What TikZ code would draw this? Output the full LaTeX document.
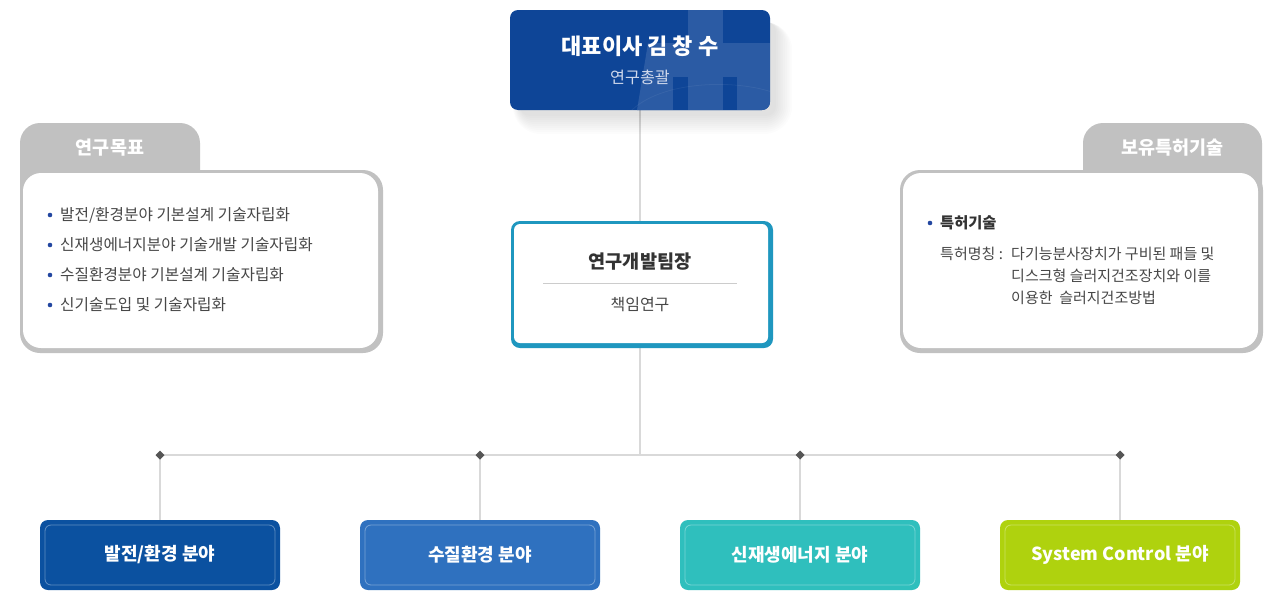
\documentclass[tikz,border=0pt]{standalone}
\usepackage{fontspec}
\setmainfont{Noto Sans CJK KR}
\usetikzlibrary{calc}
\definecolor{topblue}{HTML}{0E4597}
\definecolor{toplight}{HTML}{2B5BA4}
\definecolor{leadteal}{HTML}{1F97BF}
\definecolor{panelgray}{HTML}{C1C1C1}
\definecolor{linegray}{HTML}{D9D9D9}
\definecolor{dotgray}{HTML}{555555}
\definecolor{bulletblue}{HTML}{2347A0}
\definecolor{txtdark}{HTML}{333333}
\definecolor{txtbody}{HTML}{474747}
\definecolor{bone}{HTML}{0B51A0}
\definecolor{btwo}{HTML}{2F71BF}
\definecolor{bthree}{HTML}{2FBFBD}
\definecolor{bfour}{HTML}{AFD20E}
\pgfdeclarelayer{bg}
\pgfsetlayers{bg,main}
\tikzset{
  conn/.style={draw=linegray, line width=2pt},
  fieldbox/.style={rounded corners=8pt, minimum width=240pt, minimum height=70pt, inner sep=0pt,
     text=white, font=\bfseries\fontsize{18}{22}\selectfont},
  fieldline/.style={draw=white, draw opacity=0.35, line width=0.8pt, rounded corners=6pt},
  bodytxt/.style={anchor=west, text=txtbody, font=\fontsize{15}{18}\selectfont, inner sep=0pt},
  goaltxt/.style={bodytxt, font=\fontsize{15.7}{19}\selectfont},
  bul/.style={fill=bulletblue},
  tabtxt/.style={text=white, font=\bfseries\fontsize{18.5}{22}\selectfont},
  junction/.style={fill=dotgray}
}
\begin{document}
\begin{tikzpicture}[x=1pt,y=-1pt]
\useasboundingbox (0,0) rectangle (1280,600);
\begin{pgfonlayer}{bg}
\fill[white] (0,0) rectangle (1280,600);
\end{pgfonlayer}

% ---- shadow of top box
\foreach \i in {0,2,...,18}{
  \fill[black, opacity=0.013, rounded corners=10+\i] (520-0.4*\i,22) rectangle (776+0.9*\i,116+\i);
}
% ---- top box
\node[fill=topblue, rounded corners=8pt, minimum width=260pt, minimum height=100pt, inner sep=0pt] (ceo) at (640,60) {};
\begin{scope}
  \clip[rounded corners=8pt] (510,10) rectangle (770,110);
  \fill[toplight] (688,10) rectangle (723,43);
  \fill[toplight] (648,43) -- (770,43) -- (770,110) -- (637,110) -- cycle;
  \fill[topblue] (673,77) rectangle (688,110);
  \fill[topblue] (723,77) rectangle (737,110);
  \draw[white, opacity=0.06, line width=0.8pt] (630,112) .. controls (660,80) and (740,78) .. (780,95);
\end{scope}
\node[text=white, font=\bfseries\fontsize{22}{26}\selectfont, inner sep=0pt] (ceoname) at (640,46) {대표이사 김 창 수};
\node[text={rgb,255:red,208;green,217;blue,236}, font=\fontsize{16.2}{19}\selectfont, inner sep=0pt] (ceorole) at (640,77) {연구총괄};

% ---- middle box
\fill[leadteal, rounded corners=9pt] (511,221) rectangle (773,348);
\node[fill=white, rounded corners=6pt, minimum width=254pt, minimum height=119pt, inner sep=0pt] (lead) at (641,283.5) {};
\node[text=txtdark, font=\bfseries\fontsize{18.6}{22}\selectfont, inner sep=0pt] (leadname) at (640,262) {연구개발팀장};
\draw[draw={rgb,255:red,204;green,204;blue,204}, line width=0.8pt] (543,283.5) -- (737,283.5);
\node[text=txtbody, font=\fontsize{16}{19}\selectfont, inner sep=0pt] (leadrole) at (640,305) {책임연구};

% ---- left panel
\fill[panelgray, rounded corners=20pt] (20,215) -- (20,123) -- (200,123) -- (200,215) -- cycle;
\fill[panelgray, rounded corners=20pt] (20,170) rectangle (383,353);
\fill[white, rounded corners=18pt] (23,173) rectangle (378,348);
\node[tabtxt] (goaltab) at (110,148) {연구목표};
\fill[bul] (50,215) circle (2.3pt);
\node[goaltxt] (g1) at (60,215) {발전/환경분야 기본설계 기술자립화};
\fill[bul] (50,245) circle (2.3pt);
\node[goaltxt] (g2) at (60,245) {신재생에너지분야 기술개발 기술자립화};
\fill[bul] (50,275) circle (2.3pt);
\node[goaltxt] (g3) at (60,275) {수질환경분야 기본설계 기술자립화};
\fill[bul] (50,305) circle (2.3pt);
\node[goaltxt] (g4) at (60,305) {신기술도입 및 기술자립화};

% ---- right panel
\fill[panelgray, rounded corners=20pt] (1083,215) -- (1083,123) -- (1262,123) -- (1262,215) -- cycle;
\fill[panelgray, rounded corners=20pt] (900,170) rectangle (1263,353);
\fill[white, rounded corners=18pt] (903,173) rectangle (1258,348);
\node[tabtxt] (pattab) at (1172.5,148) {보유특허기술};
\fill[bul] (930,223) circle (2.3pt);
\node[bodytxt, text=txtdark, font=\bfseries\fontsize{15.3}{18}\selectfont] (p0) at (940,223) {특허기술};
\node[bodytxt] (p1) at (940,254) {특허명칭 :};
\node[bodytxt] (p2) at (1011,254) {다기능분사장치가 구비된 패들 및};
\node[bodytxt] (p3) at (1011,276) {디스크형 슬러지건조장치와 이를};
\node[bodytxt] (p4) at (1011,298) {이용한\ \ 슬러지건조방법};

% ---- bottom boxes
\node[fieldbox, fill=bone] (b1) at (160,555) {발전/환경 분야};
\node[fieldbox, fill=btwo] (b2) at (480,555) {수질환경 분야};
\node[fieldbox, fill=bthree] (b3) at (800,555) {신재생에너지 분야};
\node[fieldbox, fill=bfour] (b4) at (1120,555) {System Control 분야};
\foreach \c in {160,480,800,1120}{
  \draw[fieldline] (\c-115,525) rectangle (\c+115,585);
}

% ---- junctions
\coordinate (hub) at (640,455);
\coordinate (j1) at (160,455);
\coordinate (j2) at (480,455);
\coordinate (j3) at (800,455);
\coordinate (j4) at (1120,455);

\begin{pgfonlayer}{bg}
  \draw[conn] (ceo.south) -- (ceo.south |- lead.north);
  \draw[conn] (ceo.south |- lead.south) -- (hub);
  \draw[conn] (j1) -- (j4);
  \draw[conn] (j1) -- (b1.north);
  \draw[conn] (j2) -- (b2.north);
  \draw[conn] (j3) -- (b3.north);
  \draw[conn] (j4) -- (b4.north);
\end{pgfonlayer}
\foreach \j in {j1,j2,j3,j4}{
  \fill[junction] ($(\j)+(0,-4.5)$) -- ($(\j)+(4.5,0)$) -- ($(\j)+(0,4.5)$) -- ($(\j)+(-4.5,0)$) -- cycle;
}
\end{tikzpicture}
\end{document}
